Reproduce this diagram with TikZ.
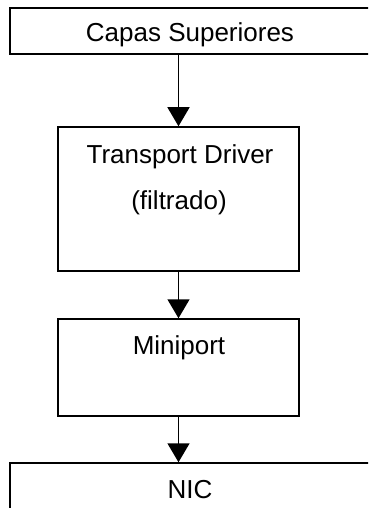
\documentclass[tikz,border=0pt]{standalone}
\usepackage{fontspec}
\setmainfont{Liberation Sans}
\usetikzlibrary{arrows.meta}
\begin{document}
\begin{tikzpicture}[x=1pt,y=-1pt,
  box/.style={draw, line width=1.5pt, rectangle, inner sep=0pt},
  lbl/.style={anchor=base, inner sep=0pt, font=\fontsize{26}{30}\selectfont},
  flow/.style={line width=1.5pt, -{Triangle[width=22pt,length=19pt]}}]
\useasboundingbox (0,0) rectangle (368,508);
\fill[white] (0,0) rectangle (368,508);
\clip (0,0) rectangle (368,508);
% layer boxes
\node[box, minimum width=360pt, minimum height=46pt]  (top) at (190,31)    {};
\node[box, minimum width=241pt, minimum height=144pt] (td)  at (178.5,199) {};
\node[box, minimum width=241pt, minimum height=97pt]  (mp)  at (178.5,367.5) {};
\node[box, minimum width=360pt, minimum height=52pt]  (nic) at (190,489)   {};
% labels
\node[lbl] (topL) at (190,42)  {Capas Superiores};
\node[lbl] (tdA)  at (180,163) {Transport Driver};
\node[lbl] (tdB)  at (179,209) {(filtrado)};
\node[lbl] (mpL)  at (179,354) {Miniport};
\node[lbl] (nicL) at (190,498) {NIC};
% downward flow
\draw[flow] (top.south -| td.north) -- (td.north);
\draw[flow] (td.south) -- (mp.north);
\draw[flow] (mp.south) -- (nic.north -| mp.south);
\end{tikzpicture}
\end{document}
